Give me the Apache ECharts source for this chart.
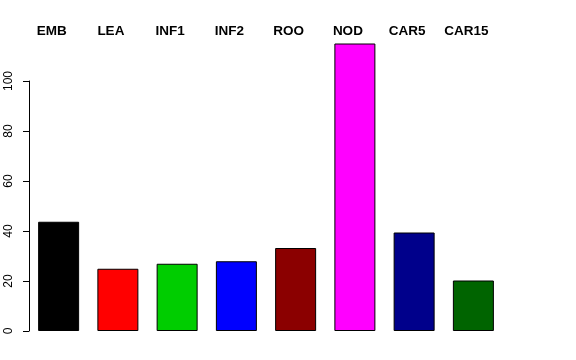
<!DOCTYPE html>
<html>
<head>
<meta charset="utf-8">
<script src="https://cdn.jsdelivr.net/npm/echarts@6/dist/echarts.min.js"></script>
<style>html,body{margin:0;padding:0;background:#fff}#c{width:576px;height:360px}</style>
</head>
<body>
<div id="c"></div>
<script>
var categories = ['EMB','LEA','INF1','INF2','ROO','NOD','CAR5','CAR15'];
var values = [43.7, 24.9, 26.9, 27.9, 33.2, 115.0, 39.4, 20.2];
var barColors = ['#000000','#FF0000','#00CD00','#0000FF','#8B0000','#FF00FF','#00008B','#006400'];
var yTicks = [0, 20, 40, 60, 80, 100];

var chart = echarts.init(document.getElementById('c'), null, {renderer:'canvas'});
chart.setOption({
  animation: false,
  backgroundColor: '#ffffff',
  grid: { left: 29, top: 81, width: 474, bottom: 29 },
  xAxis: [
    { type: 'category', data: categories, position: 'bottom',
      axisLine: {show:false}, axisTick: {show:false}, axisLabel: {show:false}, splitLine:{show:false} },
    { type: 'category', data: categories, position: 'top',
      axisLine: {show:false}, axisTick: {show:false}, splitLine:{show:false},
      axisLabel: { show: true, margin: 43, fontFamily: 'Liberation Sans, Arial, sans-serif',
        fontWeight: 'bold', fontSize: 13.5, color: '#000', padding: [0,14,0,0] } }
  ],
  yAxis: {
    type: 'value', min: 0, max: 100, interval: 20,
    axisLine: { show: true, lineStyle: { color: '#000', width: 1 } },
    axisTick: { show: true, length: 6, lineStyle: { color: '#000' } },
    splitLine: { show: false },
    axisLabel: { rotate: 90, margin: 14, fontFamily: 'Liberation Sans, Arial, sans-serif',
      fontSize: 12, color: '#000',
      formatter: function(v){ return yTicks.indexOf(v) >= 0 ? String(v) : ''; } }
  },
  series: [{
    type: 'bar', xAxisIndex: 0, clip: false, barWidth: 41,
    data: values.map(function(v,i){ return { value: v, itemStyle: { color: barColors[i] } }; }),
    itemStyle: { borderColor: '#000', borderWidth: 1 }
  }]
});
</script>
</body>
</html>
